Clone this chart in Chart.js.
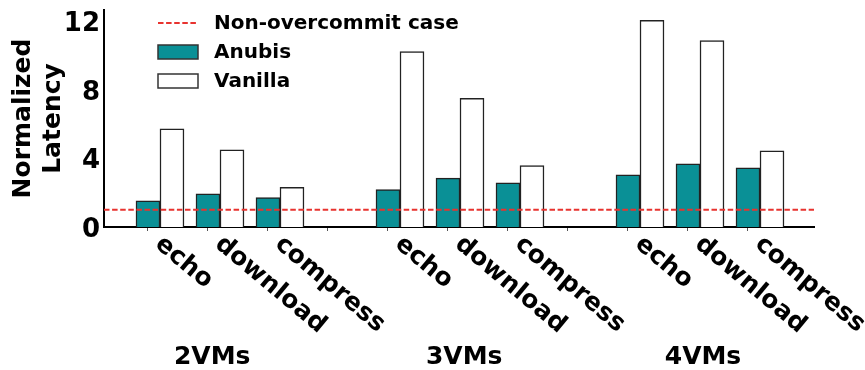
<!DOCTYPE html>
<html>
<head>
<meta charset="utf-8">
<script src="https://cdn.jsdelivr.net/npm/chart.js@4.4.1/dist/chart.umd.min.js"></script>
<style>
  html, body { margin: 0; padding: 0; background: #fff; }
  #wrap { width: 865px; height: 370px; }
</style>
</head>
<body>
<div id="wrap"><canvas id="lat" width="865" height="370"></canvas></div>
<script>
// Normalized latency under memory overcommit, per VM count and workload
const GROUPS = ['2VMs', '3VMs', '4VMs'];
const WORKLOADS = ['echo', 'download', 'compress'];
const ANUBIS = [1.53, 1.94, 1.72, 2.19, 2.85, 2.58, 3.05, 3.69, 3.45];
const VANILLA = [5.73, 4.50, 2.31, 10.23, 7.51, 3.59, 12.06, 10.87, 4.44];
const BASELINE = 1;
const Y_TICKS = [0, 4, 8, 12];
const BASELINE_LABEL = 'Non-overcommit case';

const TEAL = '#0a9096';
const RED = '#e8332f';
const EDGE = '#222';
const FONT = "'DejaVu Sans', sans-serif";

// one slot per workload, plus an empty slot between VM groups
const SLOT_STRIDE = WORKLOADS.length + 1;
const BAR_OFFSET = 0.4;
const X_MIN = -0.733, X_MAX = 11.1, Y_MAX = 12.66;
const GROUP_LABEL_SHIFT = [1.07, 1.27, 1.25];
const LABEL_ANGLE = 40 * Math.PI / 180;

const slotOf = i => Math.floor(i / WORKLOADS.length) * SLOT_STRIDE + i % WORKLOADS.length;
const anubisPts = ANUBIS.map((v, i) => ({ x: slotOf(i), y: v }));
const vanillaPts = VANILLA.map((v, i) => ({ x: slotOf(i) + BAR_OFFSET, y: v }));
const slotTicks = [];
for (let s = 0; s < GROUPS.length * SLOT_STRIDE - 1; s++) slotTicks.push(s);

// workload names, group names and the in-plot legend
const annotate = {
  id: 'annotate',
  afterDraw(chart) {
    const { ctx, chartArea: a, scales: { x } } = chart;
    ctx.save();
    ctx.fillStyle = '#000';

    ctx.font = `bold 25px ${FONT}`;
    ctx.textAlign = 'left';
    ctx.textBaseline = 'alphabetic';
    GROUPS.forEach((g, gi) => WORKLOADS.forEach((w, wi) => {
      const px = x.getPixelForValue(gi * SLOT_STRIDE + wi);
      ctx.save();
      ctx.translate(px + 6, a.bottom + 19);
      ctx.rotate(LABEL_ANGLE);
      ctx.fillText(w, 0, 0);
      ctx.restore();
    }));

    ctx.textAlign = 'center';
    ctx.textBaseline = 'middle';
    GROUPS.forEach((g, gi) => {
      ctx.fillText(g, x.getPixelForValue(gi * SLOT_STRIDE + GROUP_LABEL_SHIFT[gi]), a.bottom + 130);
    });

    // legend rows
    const lx = a.left + 54, tx = a.left + 110;
    ctx.font = `bold 20px ${FONT}`;
    ctx.textAlign = 'left';
    chart.data.datasets.forEach((ds, i) => {
      const cy = a.top + 13 + i * 29;
      if (ds.type === 'line') {
        ctx.save();
        ctx.strokeStyle = ds.borderColor;
        ctx.lineWidth = ds.borderWidth;
        ctx.setLineDash(ds.borderDash);
        ctx.beginPath();
        ctx.moveTo(lx, cy);
        ctx.lineTo(lx + 40, cy);
        ctx.stroke();
        ctx.restore();
      } else {
        ctx.fillStyle = ds.backgroundColor;
        ctx.fillRect(lx, cy - 7, 40, 14);
        ctx.strokeStyle = '#333';
        ctx.lineWidth = 1.5;
        ctx.strokeRect(lx, cy - 7, 40, 14);
      }
      ctx.fillStyle = '#000';
      ctx.fillText(ds.label, tx, cy + 1);
    });
    ctx.restore();
  }
};

const barStyle = {
  borderColor: EDGE,
  borderWidth: 1.5,
  grouped: false,
  barPercentage: 1,
  categoryPercentage: 1,
  order: 1
};

new Chart(document.getElementById('lat'), {
  type: 'bar',
  data: {
    datasets: [
      {
        type: 'line', label: BASELINE_LABEL,
        data: [{ x: X_MIN, y: BASELINE }, { x: X_MAX, y: BASELINE }],
        borderColor: RED, borderWidth: 2, borderDash: [5.5, 2.6],
        pointRadius: 0, fill: false, order: 0
      },
      Object.assign({ label: 'Anubis', data: anubisPts, backgroundColor: TEAL }, barStyle),
      Object.assign({ label: 'Vanilla', data: vanillaPts, backgroundColor: '#fff' }, barStyle)
    ]
  },
  options: {
    responsive: false,
    animation: false,
    layout: { padding: { top: 10, right: 51, bottom: 0, left: 0 } },
    plugins: { legend: { display: false }, tooltip: { enabled: false } },
    scales: {
      x: {
        type: 'linear', min: X_MIN, max: X_MAX, offset: false,
        afterBuildTicks: s => { s.ticks = slotTicks.map(v => ({ value: v })); },
        afterFit: s => { s.height = 143; s.paddingLeft = 0; s.paddingRight = 0; },
        ticks: { display: false },
        grid: { display: true, offset: false, drawOnChartArea: false, drawTicks: true, tickLength: 4, color: '#555', lineWidth: 1 },
        border: { display: true, color: '#000', width: 2 }
      },
      y: {
        min: 0, max: Y_MAX,
        afterBuildTicks: s => { s.ticks = Y_TICKS.map(v => ({ value: v })); },
        afterFit: s => { s.width = 104; s.paddingTop = 0; s.paddingBottom = 0; },
        ticks: { color: '#000', font: { family: FONT, size: 26, weight: 'bold' }, padding: 4, labelOffset: 3 },
        grid: { display: false, drawTicks: false },
        border: { display: true, color: '#000', width: 2 },
        title: {
          display: true, text: ['Normalized', 'Latency'], color: '#000',
          font: { family: FONT, size: 25, weight: 'bold', lineHeight: 1.2 },
          padding: { top: 8, bottom: 0 }
        }
      }
    }
  },
  plugins: [annotate]
});
</script>
</body>
</html>
